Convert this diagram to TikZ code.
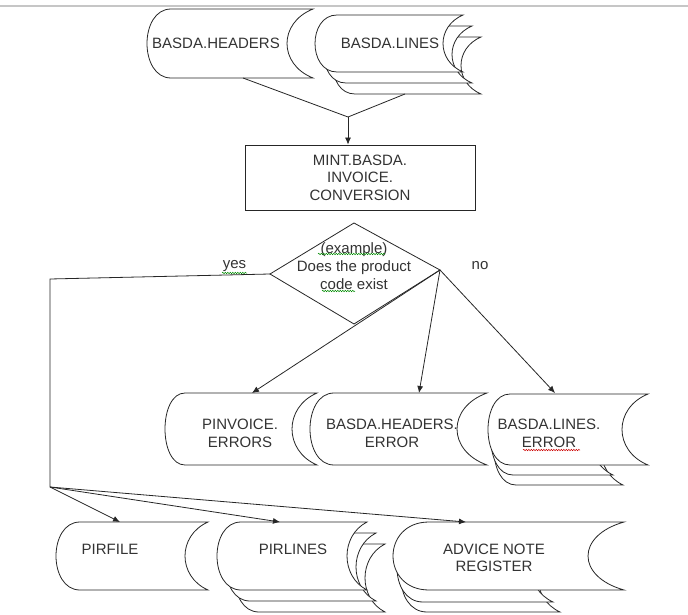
\documentclass[tikz,border=0pt]{standalone}
\usepackage{fontspec}
\setmainfont{Liberation Sans}
\usetikzlibrary{arrows.meta,decorations.pathmorphing}
% stored-data shape: #1 left x, #2 right tip x, #3 top y, #4 bottom y, #5 left depth, #6 right depth
\newcommand\sdshape[6]{%
  \filldraw[shp] ({#1+#5},#3) -- (#2,#3)
    .. controls ({#2-1.333*#6},{#3+0.2*(#4-#3)}) and ({#2-1.333*#6},{#4-0.2*(#4-#3)}) .. (#2,#4)
    -- ({#1+#5},#4)
    .. controls ({#1-0.333*#5},#4) and ({#1-0.333*#5},#3) .. cycle;}
\begin{document}
\begin{tikzpicture}[x=1pt,y=-1pt,
  shp/.style={draw=black!85, fill=white, line width=0.8pt},
  txt/.style={font=\fontsize{15}{17.5}\selectfont, text=black!80, align=center, inner sep=0pt},
  conn/.style={draw=black!85, line width=0.8pt},
  arr/.style={conn, -{Latex[length=7pt,width=6pt]}},
  squig/.style={decorate, decoration={snake, amplitude=0.7pt, segment length=2.5pt}, line width=0.5pt}]
\useasboundingbox (0,0) rectangle (688,615);
\draw[gray!45, line width=1.5pt] (0,6) -- (688,6);

% ---- top inputs
\sdshape{147}{313}{9}{78}{24}{26}
\node[txt] (hdr) at (216,43) {BASDA.HEADERS};
\sdshape{333}{481}{37}{94}{22}{20}
\sdshape{324}{472}{26}{83}{22}{20}
\sdshape{315}{463}{15}{72}{22}{20}
\node[txt] (lns) at (390,43) {BASDA.LINES};

% ---- conversion box
\node[shp, txt, minimum width=230pt, minimum height=65pt] (mint) at (360,177.5) {MINT.BASDA.\\INVOICE.\\CONVERSION};
\coordinate (hb) at (243,78);
\coordinate (lb) at (405,94);
\coordinate (m) at (348,117);
\draw[conn] (hb) -- (m) -- (lb);
\draw[arr] (m) -- (m |- mint.north);

% ---- decision
\coordinate (dT) at (354,223);
\coordinate (dR) at (440,270);
\coordinate (dB) at (354,324);
\coordinate (dL) at (270,274);
\draw[shp] (dT) -- (dR) -- (dB) -- (dL) -- cycle;
\node[txt, font=\fontsize{15}{18}\selectfont] (q) at (354,266) {(example)\\Does the product\\code exist};
\draw[squig, green!55!black] (318,254) -- (385,254);
\draw[squig, green!55!black] (322,291) -- (355,291);
\node[txt] (yes) at (234.5,266) {yes};
\draw[squig, green!55!black] (222,273) -- (247,273);
\node[txt] (no) at (480,266) {no};

% ---- error outputs
\sdshape{165}{317}{393}{465}{20}{25}
\node[txt] (pinv) at (240,433.5) {PINVOICE.\\ERRORS};
\sdshape{310}{487}{393}{465}{24}{30}
\node[txt] (hdre) at (392,433.5) {BASDA.HEADERS.\\ERROR};
\sdshape{494}{623}{415}{485}{22}{22}
\sdshape{491}{613}{405}{475}{22}{22}
\sdshape{488}{648}{394}{465}{22}{26}
\node[txt] (lnse) at (549,433.5) {BASDA.LINES.\\ERROR};
\draw[squig, red!80!black] (523,450) -- (580,450);

\coordinate (pinvT) at (252,393);
\coordinate (hdreT) at (419,393);
\coordinate (lnseT) at (555,393);
\draw[arr] (dR) -- (pinvT);
\draw[arr] (dR) -- (hdreT);
\draw[arr] (dR) -- (lnseT);

% ---- yes outputs
\sdshape{56}{208}{522}{590}{24}{23}
\node[txt] (pf) at (110,549) {PIRFILE};
\sdshape{235}{385}{544}{612}{24}{20}
\sdshape{226}{376}{533}{601}{24}{20}
\sdshape{217}{367}{522}{590}{24}{20}
\node[txt] (pl) at (293,549) {PIRLINES};
\sdshape{401}{560}{544}{612}{26}{22}
\sdshape{397}{553}{534}{602}{26}{22}
\sdshape{393}{624}{522}{590}{36}{36}
\node[txt] (adv) at (494,558) {ADVICE NOTE\\REGISTER};

\coordinate (yc) at (50,279);
\coordinate (yb) at (50,487);
\coordinate (pfT) at (120,522);
\coordinate (plT) at (280,522);
\coordinate (advT) at (466,522);
\draw[conn] (dL) -- (yc) -- (yb);
\draw[arr] (yb) -- (pfT);
\draw[arr] (yb) -- (plT);
\draw[arr] (yb) -- (advT);
\end{tikzpicture}
\end{document}
